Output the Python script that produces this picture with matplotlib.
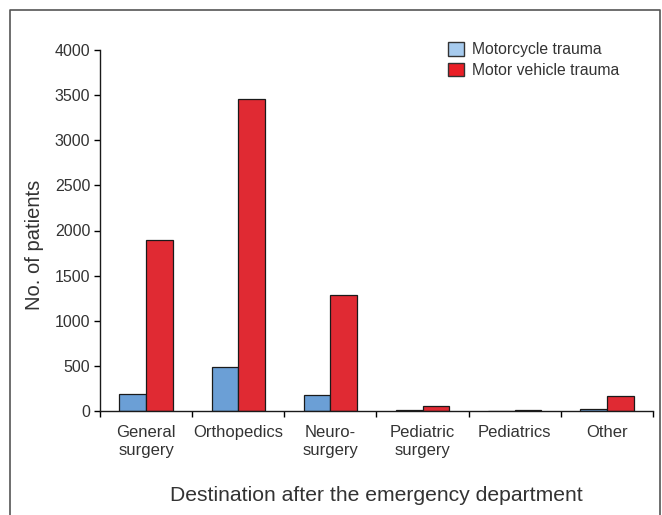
import numpy as np
import matplotlib.pyplot as plt
from matplotlib.lines import Line2D
from matplotlib.patches import Patch

categories = ['General\nsurgery', 'Orthopedics', 'Neuro-\nsurgery', 'Pediatric\nsurgery', 'Pediatrics', 'Other']
motorcycle = [190, 485, 180, 6, 2, 22]
motor_vehicle = [1890, 3460, 1290, 58, 6, 168]

plt.rcParams['font.family'] = ['Liberation Sans', 'DejaVu Sans']
txt = '#333333'

fig = plt.figure(figsize=(6.62, 5.15), dpi=100)
ax = fig.add_axes([100 / 662, 104 / 515, 553 / 662, 361 / 515])

x = np.arange(len(categories))
w = 0.29
ax.bar(x - w / 2, motorcycle, w, color='#6b9fd6', edgecolor='#1a1a1a', linewidth=0.9)
ax.bar(x + w / 2, motor_vehicle, w, color='#e02a33', edgecolor='#1a1a1a', linewidth=0.9)

ax.set_xlim(-0.5, len(categories) - 0.5)
ax.set_ylim(0, 4000)
ax.set_yticks(np.arange(0, 4001, 500))
ax.set_xticks(x)
ax.set_xticklabels(categories, fontsize=12, color=txt, linespacing=1.25)
ax.set_xticks(np.arange(-0.5, len(categories)), minor=True)
ax.tick_params(axis='x', which='major', length=0, pad=10)
ax.tick_params(axis='x', which='minor', length=4, direction='out', width=1)
ax.tick_params(axis='y', length=4, width=1, labelsize=11.5, labelcolor=txt, pad=3)

for s in ['top', 'right']:
    ax.spines[s].set_visible(False)
for s in ['left', 'bottom']:
    ax.spines[s].set_color('#1a1a1a')
    ax.spines[s].set_linewidth(1)

ax.set_ylabel('No. of patients', fontsize=14.5, color=txt)
ax.yaxis.set_label_coords(-0.101, 0.46)
ax.set_xlabel('Destination after the emergency department', fontsize=15.2, color=txt, labelpad=20)

handles = [Patch(facecolor='#a7cbee', edgecolor='#333333'),
           Patch(facecolor='#ea1f27', edgecolor='#333333')]
fig.legend(handles, ['Motorcycle trauma', 'Motor vehicle trauma'], loc='upper left',
           bbox_to_anchor=(448 / 662, 1 - 42 / 515), frameon=False, fontsize=11.3,
           labelcolor=txt, borderpad=0, borderaxespad=0,
           handlelength=1.0, handleheight=0.95, handletextpad=0.55, labelspacing=0.35)

# outer frame
fx0, fx1, fy = 10 / 662, 660 / 662, 1 - 10 / 515
fig.add_artist(Line2D([fx0, fx0, fx1, fx1], [0, fy, fy, 0], color='#555555', linewidth=1.2))

fig.savefig('out.png', dpi=100)
